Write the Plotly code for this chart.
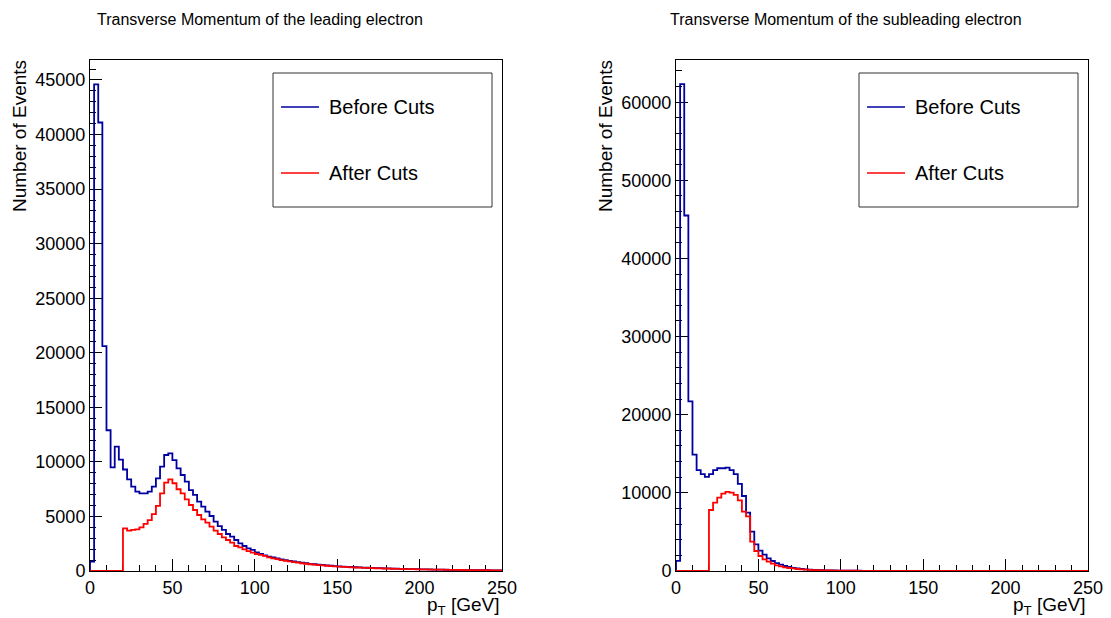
import numpy as np
import plotly.graph_objects as go

# ---- histogram contents: 100 bins of 2.5 GeV from 0 to 250 GeV ----
bin_low, bin_high, n_bins = 0.0, 250.0, 100

lead_before = [
    850, 44600, 41100, 20600, 12900, 9500, 11400, 10200, 9300, 8400,
    7730, 7270, 7120, 7120, 7270, 7730, 8490, 9560, 10630, 10780,
    10170, 9410, 8800, 8190, 7420, 6970, 6350, 5900, 5440, 5040,
    4520, 4120, 3760, 3390, 3150, 2840, 2540, 2290, 2080, 1930,
    1710, 1560, 1440, 1310, 1250, 1150, 1070, 1000, 930, 870,
    810, 760, 710, 660, 620, 580, 550, 510, 480, 455,
    430, 405, 385, 365, 345, 330, 315, 300, 285, 270,
    258, 246, 234, 222, 211, 200, 190, 180, 172, 164,
    156, 148, 141, 134, 128, 122, 116, 110, 104, 99,
    94, 89, 85, 81, 77, 73, 69, 66, 62, 59,
]
lead_after = [
    0, 0, 0, 0, 0, 0, 0, 0, 3910, 3700,
    3760, 3820, 4000, 4310, 4670, 5220, 5960, 7120, 8100, 8400,
    8040, 7490, 7120, 6570, 6050, 5590, 5130, 4740, 4430, 4060,
    3700, 3390, 3090, 2840, 2600, 2290, 2170, 1990, 1830, 1680,
    1560, 1470, 1380, 1250, 1160, 1080, 1000, 940, 880, 820,
    760, 710, 665, 620, 580, 545, 510, 480, 450, 425,
    400, 378, 358, 340, 322, 306, 292, 278, 264, 252,
    240, 229, 218, 207, 197, 188, 179, 170, 163, 155,
    148, 141, 135, 129, 123, 117, 112, 107, 102, 97,
    93, 88, 84, 80, 76, 73, 69, 66, 63, 60,
]
sublead_before = [
    1300, 62300, 45500, 21700, 14900, 12900, 12400, 12050, 12400, 12900,
    13150, 13150, 13240, 12900, 12400, 11150, 9600, 7470, 5050, 3400,
    2600, 2090, 1620, 1280, 1020, 810, 640, 510, 390, 340,
    260, 215, 175, 135, 115, 100, 88, 78, 68, 60,
    52, 46, 40, 35, 31, 27, 24, 21, 18, 16,
    14, 13, 11, 10, 9, 8, 7, 6, 6, 5,
    5, 4, 4, 3, 3, 3, 2, 2, 2, 2,
    2, 1, 1, 1, 1, 1, 1, 1, 1, 1,
    1, 1, 1, 0, 0, 0, 0, 0, 0, 0,
    0, 0, 0, 0, 0, 0, 0, 0, 0, 0,
]
sublead_after = [
    0, 0, 0, 0, 0, 0, 0, 0, 7810, 8750,
    9390, 9900, 10120, 10030, 9740, 9050, 7600, 7000, 3760, 2560,
    1920, 1490, 1200, 940, 730, 600, 470, 385, 340, 256,
    215, 180, 150, 120, 100, 86, 75, 66, 58, 51,
    45, 40, 35, 31, 27, 24, 21, 18, 16, 14,
    12, 11, 10, 9, 8, 7, 6, 5, 5, 4,
    4, 3, 3, 3, 2, 2, 2, 2, 1, 1,
    1, 1, 1, 1, 1, 1, 1, 1, 1, 1,
    1, 1, 0, 0, 0, 0, 0, 0, 0, 0,
    0, 0, 0, 0, 0, 0, 0, 0, 0, 0,
]

titles = [
    "Transverse Momentum of the leading electron",
    "Transverse Momentum of the subleading electron",
]
legend_labels = ["Before Cuts", "After Cuts"]
x_title = "p<sub>T</sub> [GeV]"
y_title = "Number of Events"

BLUE = "#0000a0"
RED = "#ff0000"
FONT = "Liberation Sans, Arial, Helvetica, sans-serif"

W, H = 1111, 618
edges = np.linspace(bin_low, bin_high, n_bins + 1)


def px(x):
    return x / W


def py(y):
    return 1 - y / H


def outline(values):
    """Step outline of a histogram: up from the baseline, across each bin, back down."""
    vals = list(values)
    xs = [edges[0]] + list(edges[:-1]) + [edges[-1], edges[-1]]
    ys = [0] + vals + [vals[-1], 0]
    return xs, ys


# frame geometry (pixels) of the two pads
frames = [
    dict(x0=90, x1=502, y0=60, y1=571, ymax=46830, ydt=5000, ymin_dt=1000),
    dict(x0=676, x1=1088, y0=60, y1=571, ymax=65400, ydt=10000, ymin_dt=2000),
]
series = [(lead_before, lead_after), (sublead_before, sublead_after)]

fig = go.Figure()
layout = dict(
    width=W, height=H, margin=dict(l=0, r=0, t=0, b=0),
    template="none", paper_bgcolor="white", plot_bgcolor="white",
    showlegend=False, font=dict(family=FONT, color="black"),
)
shapes, annotations = [], []

for i, (fr, (before, after), title) in enumerate(zip(frames, series, titles)):
    xa = "x" if i == 0 else "x2"
    ya = "y" if i == 0 else "y2"
    for vals, col in ((before, BLUE), (after, RED)):
        xs, ys = outline(vals)
        fig.add_trace(go.Scatter(
            x=xs, y=ys, mode="lines", line=dict(color=col, width=1.8, shape="hv"),
            xaxis=xa, yaxis=ya, hoverinfo="skip",
        ))

    axis_common = dict(
        showline=True, linecolor="black", linewidth=1, mirror=True,
        showgrid=False, zeroline=False, ticks="inside", tickcolor="black",
        tickwidth=1, automargin=False, layer="below traces",
        tickfont=dict(family=FONT, size=18, color="black"),
    )
    xkey = "xaxis" if i == 0 else "xaxis2"
    ykey = "yaxis" if i == 0 else "yaxis2"
    layout[xkey] = dict(
        axis_common, domain=[px(fr["x0"]), px(fr["x1"])], range=[bin_low, bin_high],
        anchor=ya, tick0=0, dtick=50, ticklen=12,
        minor=dict(ticks="inside", dtick=10, ticklen=6, tickcolor="black", tickwidth=1),
    )
    layout[ykey] = dict(
        axis_common, domain=[py(fr["y1"]), py(fr["y0"])], range=[0, fr["ymax"]],
        anchor=xa, tick0=0, dtick=fr["ydt"], ticklen=12, tickformat="d",
        minor=dict(ticks="inside", dtick=fr["ymin_dt"], ticklen=6,
                   tickcolor="black", tickwidth=1),
    )

    # pad title, placed left of the frame centre
    annotations.append(dict(
        text=title, xref="paper", yref="paper",
        x=px((fr["x0"] + fr["x1"]) / 2 - 36), y=py(19),
        xanchor="center", yanchor="middle", showarrow=False,
        font=dict(family=FONT, size=16, color="black"),
    ))
    # axis titles
    annotations.append(dict(
        text=x_title, xref="paper", yref="paper", x=px(fr["x1"]), y=py(606),
        xanchor="right", yanchor="middle", showarrow=False,
        font=dict(family=FONT, size=19, color="black"),
    ))
    annotations.append(dict(
        text=y_title, xref="paper", yref="paper", x=px(fr["x0"] - 71), y=py(136),
        xanchor="center", yanchor="middle", textangle=-90, showarrow=False,
        font=dict(family=FONT, size=19, color="black"),
    ))

    # legend box
    lx0 = fr["x0"] + 183
    lx1 = lx0 + 219
    shapes.append(dict(
        type="rect", xref="paper", yref="paper",
        x0=px(lx0), x1=px(lx1), y0=py(207), y1=py(73),
        line=dict(color="#333333", width=1), fillcolor="white", layer="above",
    ))
    for label, col, yy in zip(legend_labels, (BLUE, RED), (107, 173)):
        shapes.append(dict(
            type="line", xref="paper", yref="paper",
            x0=px(lx0 + 8), x1=px(lx0 + 46), y0=py(yy), y1=py(yy),
            line=dict(color=col, width=1.6), layer="above",
        ))
        annotations.append(dict(
            text=label, xref="paper", yref="paper", x=px(lx0 + 54), y=py(yy),
            xanchor="left", yanchor="middle", showarrow=False,
            font=dict(family=FONT, size=20, color="black"),
        ))

layout["shapes"] = shapes
layout["annotations"] = annotations
fig.update_layout(**layout)
fig.write_html("out.html")
